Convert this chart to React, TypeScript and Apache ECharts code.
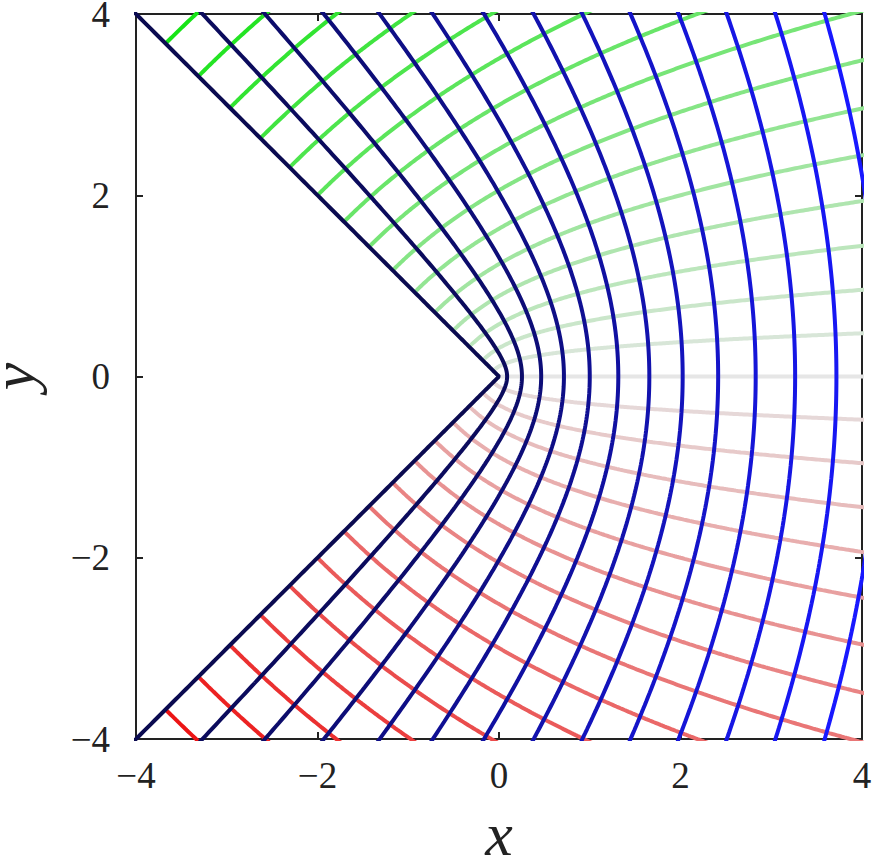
import React, { useEffect, useRef } from "react";
import * as echarts from "echarts";

// Grid of the conformal map z = w^(3/2): Re w = const (blue), Im w = const (green > 0, red < 0)
const blueLevels = [0, 0.2, 0.4, 0.6, 0.8, 1.0, 1.2, 1.4, 1.6, 1.8, 2.0, 2.2, 2.4, 2.6, 2.8, 3.0];
const greenLevels = [0.2, 0.4, 0.6, 0.8, 1.0, 1.2, 1.4, 1.6, 1.8, 2.0, 2.2, 2.4, 2.6, 2.8, 3.0, 3.2];
const redLevels = [-0.2, -0.4, -0.6, -0.8, -1.0, -1.2, -1.4, -1.6, -1.8, -2.0, -2.2, -2.4, -2.6, -2.8, -3.0, -3.2];
const zeroLevel = [0];
const tickValues = [-4, -2, 0, 2, 4];
const axisMin = -4;
const axisMax = 4;

function mapPoint(re: number, im: number): [number, number] {
  const r = Math.pow(Math.hypot(re, im), 1.5);
  const th = 1.5 * Math.atan2(im, re);
  return [r * Math.cos(th), r * Math.sin(th)];
}

function mix(a: number[], b: number[], t: number): string {
  const c = a.map((v, i) => Math.round(v + (b[i] - v) * Math.max(0, Math.min(1, t))));
  return `rgb(${c[0]},${c[1]},${c[2]})`;
}

const PARAM_STEPS = 400;
const PARAM_MAX = 4.2;

function curveRe(c: number): [number, number][] {
  const pts: [number, number][] = [];
  for (let i = 0; i <= PARAM_STEPS; i++) {
    const t = -PARAM_MAX + (2 * PARAM_MAX * i) / PARAM_STEPS;
    pts.push(mapPoint(c, t));
  }
  return pts;
}
function curveIm(d: number): [number, number][] {
  const pts: [number, number][] = [];
  for (let i = 0; i <= PARAM_STEPS; i++) {
    const s = (PARAM_MAX * i) / PARAM_STEPS;
    pts.push(mapPoint(s, d));
  }
  return pts;
}

const GRAY = [230, 230, 230];
const GREEN = [22, 228, 22];
const RED = [236, 20, 20];
const NAVY = [10, 10, 80];
const BLUE = [24, 24, 255];

export default function App() {
  const ref = useRef<HTMLDivElement>(null);
  useEffect(() => {
    if (!ref.current) return;
    const chart = echarts.init(ref.current, null, { renderer: "svg" });
    const series: any[] = [];
    const lw = 4;
    zeroLevel.forEach((d) =>
      series.push({ type: "line", data: curveIm(d), showSymbol: false, symbol: "none", clip: true,
        lineStyle: { color: mix(GRAY, GREEN, 0), width: lw }, silent: true })
    );
    greenLevels.forEach((d) =>
      series.push({ type: "line", data: curveIm(d), showSymbol: false, symbol: "none", clip: true,
        lineStyle: { color: mix(GRAY, GREEN, d / 3), width: lw }, silent: true })
    );
    redLevels.forEach((d) =>
      series.push({ type: "line", data: curveIm(d), showSymbol: false, symbol: "none", clip: true,
        lineStyle: { color: mix(GRAY, RED, -d / 3), width: lw }, silent: true })
    );
    blueLevels.forEach((c) =>
      series.push({ type: "line", data: curveRe(c), showSymbol: false, symbol: "none", clip: true,
        lineStyle: { color: mix(NAVY, BLUE, c / 2.6), width: lw }, silent: true })
    );
    const fmt = (v: number) => (v < 0 ? "\u2212" + Math.abs(v) : String(v));
    const serif = "Liberation Serif, DejaVu Serif, serif";
    const baseAxis = {
      type: "value",
      min: axisMin,
      max: axisMax,
      interval: 2,
      splitLine: { show: false },
      axisLine: { show: true, onZero: false, lineStyle: { color: "#222", width: 2 } },
      axisTick: { show: true, inside: true, length: 7, lineStyle: { color: "#222", width: 2 } },
    };
    chart.setOption({
      animation: false,
      backgroundColor: "#fff",
      grid: { left: 136, top: 14, right: 10, bottom: 122, containLabel: false, outerBoundsMode: "none" },
      xAxis: [
        {
          ...baseAxis,
          position: "bottom",
          name: "x",
          nameLocation: "middle",
          nameGap: 80,
          nameTextStyle: { fontFamily: serif, fontStyle: "italic", fontSize: 62, lineHeight: 30, color: "#222" },
          axisLabel: { formatter: fmt, fontFamily: serif, fontSize: 37, lineHeight: 26, color: "#222", margin: 23,
            customValues: tickValues },
        },
        { ...baseAxis, position: "top", axisLabel: { show: false } },
      ],
      yAxis: [
        {
          ...baseAxis,
          position: "left",
          name: "y",
          nameLocation: "middle",
          nameGap: 108,
          nameRotate: 90,
          nameTextStyle: { fontFamily: serif, fontStyle: "italic", fontSize: 62, lineHeight: 30, color: "#222" },
          axisLabel: { formatter: fmt, fontFamily: serif, fontSize: 37, lineHeight: 26, color: "#222", margin: 26 },
        },
        { ...baseAxis, position: "right", axisLabel: { show: false } },
      ],
      series,
    });
    return () => chart.dispose();
  }, []);
  return <div ref={ref} style={{ width: 872, height: 861, position: "absolute", left: 0, top: 0 }} />;
}
